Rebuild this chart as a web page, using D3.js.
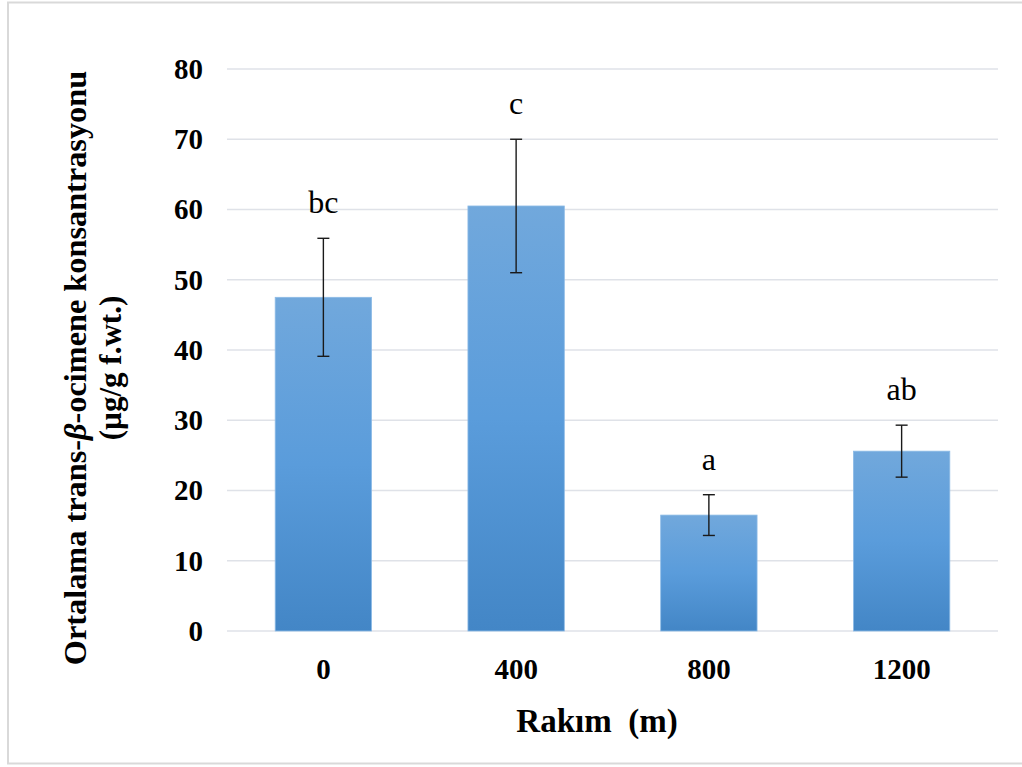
<!DOCTYPE html>
<html>
<head>
<meta charset="utf-8">
<script src="https://cdn.jsdelivr.net/npm/d3@7/dist/d3.min.js"></script>
<style>
  html, body { margin: 0; padding: 0; background: #ffffff; }
  svg { display: block; }
</style>
</head>
<body>
<svg id="chart" width="1022" height="767"></svg>
<script>
// Altitude groups (m)
const categories = ["0", "400", "800", "1200"];
// Mean trans-β-ocimene concentration (µg/g f.wt.)
const means = [47.5, 60.5, 16.5, 25.6];
// Error bar half-widths
const errors = [8.4, 9.5, 2.9, 3.7];
// Significance letters
const letters = ["bc", "c", "a", "ab"];
// Y axis ticks
const yTicks = [0, 10, 20, 30, 40, 50, 60, 70, 80];

const svg = d3.select("#chart");
const serif = "'Liberation Serif', 'Times New Roman', serif";

// Outer chart frame
svg.append("rect")
  .attr("x", 8).attr("y", 2.5)
  .attr("width", 1030).attr("height", 761)
  .attr("fill", "#ffffff")
  .attr("stroke", "#d9d9d9").attr("stroke-width", 2);

const plot = { left: 227, right: 998, top: 69, bottom: 631 };

const x = d3.scaleBand()
  .domain(categories)
  .range([plot.left, plot.right])
  .paddingInner(0.5).paddingOuter(0.25);

const y = d3.scaleLinear()
  .domain([0, 80])
  .range([plot.bottom, plot.top]);

// Bar gradient: lighter at the top, deeper blue at the base
const defs = svg.append("defs");
const grad = defs.append("linearGradient")
  .attr("id", "barFill")
  .attr("x1", 0).attr("y1", 0).attr("x2", 0).attr("y2", 1);
grad.append("stop").attr("offset", "0%").attr("stop-color", "#71a8dc");
grad.append("stop").attr("offset", "50%").attr("stop-color", "#5a9cdb");
grad.append("stop").attr("offset", "100%").attr("stop-color", "#4386c6");

// Horizontal gridlines
svg.append("g")
  .selectAll("line")
  .data(yTicks)
  .join("line")
  .attr("x1", plot.left).attr("x2", plot.right)
  .attr("y1", d => y(d)).attr("y2", d => y(d))
  .attr("stroke", "#dfe2e8").attr("stroke-width", 1.5);

// Y axis tick labels
const yAxis = d3.axisLeft(y).tickValues(yTicks).tickSize(0).tickPadding(24);
const gy = svg.append("g")
  .attr("transform", `translate(${plot.left},0)`)
  .call(yAxis);
gy.select(".domain").remove();
gy.selectAll("text")
  .attr("font-family", serif)
  .attr("font-weight", "bold")
  .attr("font-size", 29)
  .attr("fill", "#000");

// X axis tick labels
const xAxis = d3.axisBottom(x).tickSize(0).tickPadding(27);
const gx = svg.append("g")
  .attr("transform", `translate(0,${plot.bottom})`)
  .call(xAxis);
gx.select(".domain").remove();
gx.selectAll("text")
  .attr("font-family", serif)
  .attr("font-weight", "bold")
  .attr("font-size", 29)
  .attr("fill", "#000");

const rows = categories.map((c, i) => ({ c, m: means[i], e: errors[i], l: letters[i] }));

// Bars
svg.append("g")
  .selectAll("rect")
  .data(rows)
  .join("rect")
  .attr("x", d => x(d.c))
  .attr("width", x.bandwidth())
  .attr("y", d => y(d.m))
  .attr("height", d => y(0) - y(d.m))
  .attr("fill", "url(#barFill)")
  .attr("stroke", "#8dbbe6").attr("stroke-width", 0.8);

// Error bars
const eb = svg.append("g")
  .attr("stroke", "#1a1a1a").attr("stroke-width", 1.4);
const cx = d => x(d.c) + x.bandwidth() / 2;
const cap = 6;
eb.selectAll("line.v").data(rows).join("line").attr("class", "v")
  .attr("x1", cx).attr("x2", cx)
  .attr("y1", d => y(d.m + d.e)).attr("y2", d => y(d.m - d.e));
eb.selectAll("line.t").data(rows).join("line").attr("class", "t")
  .attr("x1", d => cx(d) - cap).attr("x2", d => cx(d) + cap)
  .attr("y1", d => y(d.m + d.e)).attr("y2", d => y(d.m + d.e));
eb.selectAll("line.b").data(rows).join("line").attr("class", "b")
  .attr("x1", d => cx(d) - cap).attr("x2", d => cx(d) + cap)
  .attr("y1", d => y(d.m - d.e)).attr("y2", d => y(d.m - d.e));

// Significance letters above the error bars
svg.append("g")
  .selectAll("text")
  .data(rows)
  .join("text")
  .attr("x", cx)
  .attr("y", d => y(d.m + d.e) - 25)
  .attr("text-anchor", "middle")
  .attr("font-family", serif)
  .attr("font-size", 32)
  .attr("fill", "#000")
  .text(d => d.l);

// X axis title
svg.append("text")
  .attr("x", 597).attr("y", 732)
  .attr("text-anchor", "middle")
  .attr("font-family", serif)
  .attr("font-weight", "bold")
  .attr("font-size", 33)
  .attr("fill", "#000")
  .attr("xml:space", "preserve")
  .text("Rakım  (m)");

// Y axis title (two lines, rotated)
const yt = svg.append("text")
  .attr("transform", "translate(0,368) rotate(-90)")
  .attr("text-anchor", "middle")
  .attr("font-family", serif)
  .attr("font-weight", "bold")
  .attr("fill", "#000");
const l1 = yt.append("tspan").attr("x", 0).attr("y", 86).attr("font-size", 32.3);
l1.append("tspan").text("Ortalama trans-");
l1.append("tspan").attr("font-style", "italic").text("β");
l1.append("tspan").text("-ocimene konsantrasyonu");
yt.append("tspan").attr("x", 0).attr("y", 121).attr("font-size", 31).text("(µg/g f.wt.)");
</script>
</body>
</html>
